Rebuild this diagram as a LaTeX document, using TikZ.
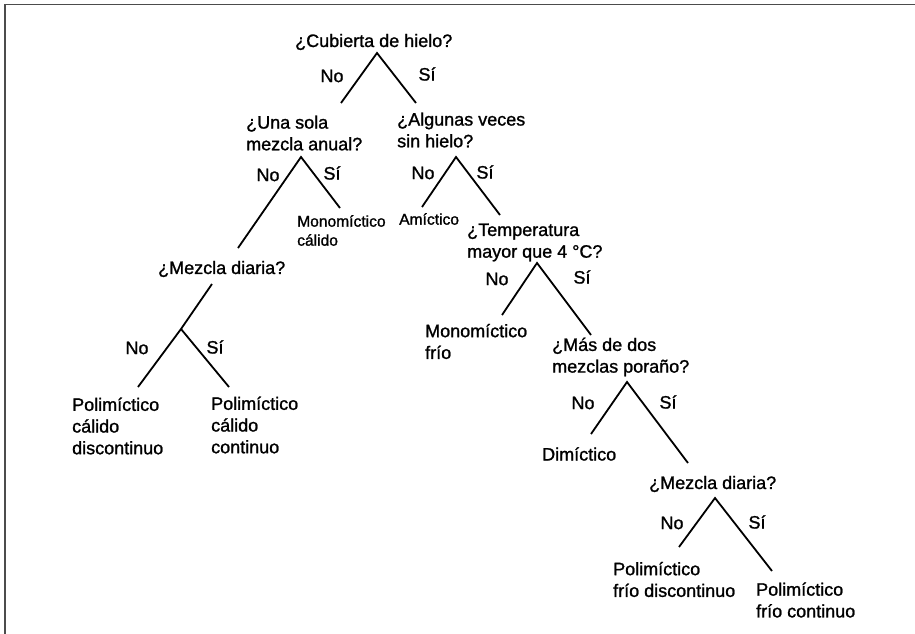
\documentclass[tikz,border=0pt]{standalone}
\usepackage{fontspec}
\setmainfont[FakeBold=1.2]{Liberation Sans}

\tikzset{
    question/.style={anchor=west, inner sep=0pt, align=left,
        font=\fontsize{18}{21.7}\selectfont},
    outcome/.style={question},
    smalloutcome/.style={question, font=\fontsize{15.6}{19}\selectfont},
    answer/.style={inner sep=0pt, font=\fontsize{18}{21.7}\selectfont},
    branch/.style={line width=1.8pt},
}

\begin{document}
\begin{tikzpicture}[x=1pt, y=-1pt]
    \useasboundingbox (0,0) rectangle (915,634);

    % Frame (top and left edges only)
    \draw[black!70, line width=1.5pt] (5,634) -- (5,4.5) -- (915,4.5);

    % Questions
    \node[question] (hielo)   at (295,42)    {¿Cubierta de hielo?};
    \node[question] (sola)    at (246,133)   {¿Una sola\\mezcla anual?};
    \node[question] (algunas) at (397,130)   {¿Algunas veces\\sin hielo?};
    \node[question] (temp)    at (467,242.5) {¿Temperatura\\mayor que 4 °C?};
    \node[question] (diariaL) at (158,269)   {¿Mezcla diaria?};
    \node[question] (mas)     at (552,357)   {¿Más de dos\\mezclas poraño?};
    \node[question] (diariaR) at (649,484)   {¿Mezcla diaria?};

    % Lake types
    \node[smalloutcome] (monocal) at (297,230.5) {Monomíctico\\cálido};
    \node[smalloutcome] (amic)    at (399,219)   {Amíctico};
    \node[outcome] (monofrio) at (425,341.5) {Monomíctico\\frío};
    \node[outcome] (policd)   at (72,426)    {Polimíctico\\cálido\\discontinuo};
    \node[outcome] (policc)   at (211,425)   {Polimíctico\\cálido\\continuo};
    \node[outcome] (dimic)    at (542,454)   {Dimíctico};
    \node[outcome] (polifd)   at (613,579.5) {Polimíctico\\frío discontinuo};
    \node[outcome] (polifc)   at (756,600)   {Polimíctico\\frío continuo};

    % Branch points and leg ends
    \coordinate (hielo-v)    at (377,53);
    \coordinate (hielo-no)   at (341,103);
    \coordinate (hielo-si)   at (416,103);
    \coordinate (sola-v)     at (301,157);
    \coordinate (sola-no)    at (238,248);
    \coordinate (sola-si)    at (340,208);
    \coordinate (algunas-v)  at (456,157);
    \coordinate (algunas-no) at (422,207);
    \coordinate (algunas-si) at (500,215);
    \coordinate (temp-v)     at (537,263);
    \coordinate (temp-no)    at (502,315);
    \coordinate (temp-si)    at (591,335);
    \coordinate (diariaL-top) at (212,284);
    \coordinate (diariaL-v)  at (181,329);
    \coordinate (diariaL-no) at (138,387);
    \coordinate (diariaL-si) at (229,387);
    \coordinate (mas-v)      at (627,382);
    \coordinate (mas-no)     at (591,434);
    \coordinate (mas-si)     at (688,463);
    \coordinate (diariaR-v)  at (715,498);
    \coordinate (diariaR-no) at (679,547);
    \coordinate (diariaR-si) at (772,571);

    % Branches
    \foreach \q in {hielo, sola, algunas, temp, mas, diariaR}{
        \draw[branch] (\q-no) -- (\q-v) -- (\q-si);
    }
    \draw[branch] (diariaL-top) -- (diariaL-v) -- (diariaL-no);
    \draw[branch] (diariaL-v) -- (diariaL-si);

    % No / Sí labels
    \foreach \q/\nx/\ny/\sx/\sy in {
        hielo/332/76/427/74, sola/268/175/332/173,
        algunas/423/173/485/172, temp/497/279/582/277,
        diariaL/137/348/215/347, mas/583/403/668/402,
        diariaR/672/523/757/522}{
        \node[answer] (\q-nolab) at (\nx,\ny) {No};
        \node[answer] (\q-silab) at (\sx,\sy) {Sí};
    }

\end{tikzpicture}
\end{document}
